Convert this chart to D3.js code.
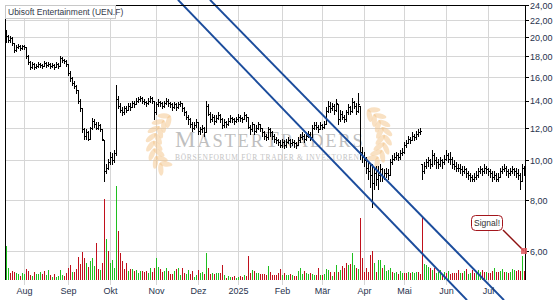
<!DOCTYPE html>
<html lang="de">
<head>
<meta charset="utf-8">
<script src="https://cdn.jsdelivr.net/npm/d3@7"></script>
<style>
  body { margin: 0; background: #fff; }
  svg { display: block; font-family: "Liberation Sans", Arial, sans-serif; }
  .grid line { stroke: #d6d6d6; stroke-width: 1; }
  .lbl { font-size: 9px; fill: #27324d; }
  .frame { stroke: #000; stroke-width: 1; }
</style>
</head>
<body>
<svg id="chart" width="555" height="300"></svg>
<script>
// ---- data ----
var title = "Ubisoft Entertainment (UEN.F)";

var closes = [20.2,19.7,19.9,19.4,18.6,18.9,19.1,18.8,19.0,18.9,
  18.0,17.4,16.9,17.2,16.9,17.0,17.2,17.1,17.0,17.3,
  17.1,17.2,17.0,17.1,16.9,17.2,17.0,17.8,17.6,17.5,
  17.2,16.4,15.9,15.5,15.2,14.9,14.0,13.4,11.9,11.5,
  11.7,11.3,12.0,12.5,12.3,12.0,12.2,11.9,11.3,9.4,
  9.6,9.9,10.2,10.0,10.4,14.1,13.6,13.3,13.1,13.4,
  13.3,13.6,13.5,13.8,13.7,14.0,14.1,14.2,14.0,13.9,
  13.8,14.0,14.2,14.0,13.1,13.7,13.9,13.8,13.6,13.8,
  14.0,13.8,13.7,13.5,13.7,13.5,13.7,13.8,13.4,13.1,
  12.8,12.6,12.3,12.0,12.2,12.4,11.8,11.9,12.0,11.7,
  13.6,13.0,12.6,12.8,12.5,12.7,12.9,12.6,12.2,12.4,
  12.3,12.5,12.7,12.6,12.5,12.6,12.8,12.7,12.6,12.9,
  12.8,12.1,11.9,12.3,11.8,12.0,12.3,12.0,11.7,11.5,
  11.4,11.9,11.7,11.5,11.3,11.2,11.1,10.9,11.1,10.9,
  11.1,11.2,11.0,11.1,11.0,10.9,11.2,11.4,11.5,11.3,
  11.5,11.6,11.4,12.0,12.2,12.1,11.9,12.2,12.1,12.3,
  13.2,13.6,13.4,13.6,13.3,13.8,12.6,13.0,12.8,12.6,
  13.1,13.5,13.2,13.9,13.6,13.2,13.7,10.5,10.2,10.0,
  9.6,9.4,9.2,8.8,9.3,9.0,9.2,9.5,9.1,9.3,
  9.3,9.2,9.9,10.1,10.2,10.3,10.2,10.4,10.5,10.9,
  11.0,11.3,11.2,11.5,11.4,11.6,11.7,11.8,9.4,9.7,
  9.9,10.0,9.8,10.3,10.0,9.9,9.8,10.0,9.9,10.1,
  10.3,10.1,10.1,9.8,9.7,9.6,9.6,9.5,9.4,9.5,
  9.3,9.2,9.1,9.0,9.1,9.2,9.4,9.5,9.4,9.6,
  9.5,9.4,9.3,9.1,9.2,9.0,9.1,9.4,9.5,9.6,
  9.4,9.3,9.4,9.5,9.4,9.3,9.2,8.9,9.6,9.4];

var highs = [20.8,20.3,20.1,20.0,19.4,19.2,19.3,19.2,19.2,19.2,
  18.9,18.1,17.5,17.4,17.3,17.2,17.4,17.3,17.2,17.5,
  17.4,17.4,17.3,17.3,17.2,17.4,17.3,18.0,17.9,17.7,
  17.6,17.2,16.5,16.0,15.6,15.3,14.9,14.1,13.4,12.0,
  11.9,11.8,12.1,12.7,12.6,12.4,12.4,12.3,11.9,11.2,
  9.8,10.1,10.5,10.4,10.6,15.3,14.4,13.8,13.5,13.6,
  13.6,13.8,13.8,14.0,14.0,14.2,14.3,14.4,14.3,14.1,
  14.0,14.2,14.4,14.3,14.0,13.9,14.1,14.0,13.9,14.0,
  14.2,14.1,13.9,13.8,13.9,13.8,13.9,14.0,13.8,13.5,
  13.2,12.9,12.7,12.4,12.4,12.6,12.4,12.1,12.2,12.1,
  14.0,13.7,13.1,13.0,12.9,12.9,13.1,13.0,12.7,12.6,
  12.5,12.7,12.9,12.8,12.7,12.8,13.0,12.9,12.8,13.1,
  13.0,12.8,12.2,12.4,12.3,12.2,12.4,12.3,12.0,11.8,
  11.6,12.1,12.0,11.8,11.6,11.4,11.3,11.2,11.3,11.2,
  11.3,11.4,11.3,11.3,11.2,11.1,11.4,11.6,11.7,11.6,
  11.7,11.8,11.7,12.2,12.4,12.4,12.2,12.4,12.3,12.5,
  13.5,14.0,13.9,13.8,13.7,14.1,13.7,13.3,13.2,12.9,
  13.3,13.7,13.6,14.2,14.0,13.8,14.6,13.6,10.8,10.5,
  10.2,9.9,9.8,9.8,9.6,9.7,9.7,9.8,9.6,9.5,
  9.6,9.5,10.1,10.3,10.4,10.5,10.4,10.6,10.7,11.1,
  11.2,11.5,11.4,11.7,11.6,11.8,11.9,12.0,9.8,9.9,
  10.1,10.2,10.1,10.6,10.4,10.2,10.1,10.2,10.1,10.3,
  10.6,10.4,10.5,10.2,10.0,9.9,9.8,9.8,9.7,9.7,
  9.6,9.4,9.3,9.2,9.3,9.4,9.6,9.7,9.6,9.8,
  9.7,9.6,9.5,9.4,9.4,9.3,9.3,9.6,9.7,9.8,
  9.7,9.5,9.6,9.7,9.6,9.6,9.5,9.3,9.8,9.7];

var lows = [19.5,19.5,19.5,19.2,18.4,18.5,18.8,18.6,18.7,18.7,
  17.8,17.2,16.7,16.8,16.7,16.8,16.9,16.9,16.8,17.0,
  16.9,17.0,16.8,16.9,16.7,16.9,16.8,17.0,17.4,17.3,
  17.0,16.2,15.6,15.3,15.0,14.6,13.8,13.2,11.7,11.3,
  11.3,11.2,11.3,11.9,12.1,11.9,11.9,11.8,11.2,8.9,
  9.3,9.5,9.8,9.8,9.9,10.3,13.4,13.1,12.9,13.0,
  13.1,13.3,13.3,13.5,13.5,13.7,13.9,14.0,13.8,13.7,
  13.6,13.7,13.9,13.8,12.6,13.0,13.6,13.6,13.4,13.5,
  13.7,13.6,13.5,13.3,13.4,13.3,13.4,13.6,13.2,12.9,
  12.6,12.3,12.1,11.8,11.9,12.1,11.6,11.6,11.7,11.5,
  11.7,12.9,12.4,12.5,12.3,12.4,12.6,12.4,12.0,12.1,
  12.1,12.2,12.4,12.4,12.3,12.4,12.5,12.5,12.4,12.6,
  12.5,12.0,11.6,11.8,11.6,11.7,11.9,11.8,11.5,11.3,
  11.2,11.3,11.5,11.3,11.1,11.0,10.9,10.8,10.8,10.7,
  10.8,11.0,10.8,10.9,10.8,10.7,10.9,11.1,11.3,11.1,
  11.2,11.4,11.2,11.4,11.9,11.9,11.7,11.9,11.9,12.0,
  12.3,13.1,13.1,13.3,13.0,13.2,12.3,12.5,12.6,12.4,
  12.5,13.0,13.0,13.1,13.4,13.0,13.1,10.1,9.9,9.7,
  9.3,9.0,8.6,7.7,8.5,8.7,8.5,8.9,8.9,9.0,
  9.1,9.0,9.2,9.8,10.0,10.1,10.0,10.1,10.3,10.4,
  10.8,11.0,11.0,11.2,11.2,11.3,11.5,11.6,9.0,9.3,
  9.6,9.7,9.6,9.7,9.8,9.6,9.6,9.7,9.6,9.8,
  10.0,9.9,9.8,9.6,9.5,9.4,9.4,9.3,9.2,9.3,
  9.1,9.0,8.9,8.9,8.9,9.0,9.1,9.3,9.2,9.3,
  9.3,9.2,9.1,8.9,9.0,8.9,8.9,9.1,9.3,9.4,
  9.2,9.1,9.2,9.3,9.2,9.1,9.0,8.5,8.9,9.2];

var volumes = [34,12,7,9,8,7,6,4,7,6,
  11,9,5,4,8,6,6,8,6,9,
  5,10,5,3,6,3,4,10,5,4,
  7,12,15,8,8,11,23,16,28,22,
  17,13,19,22,14,37,11,10,17,81,
  41,29,17,20,12,94,49,27,19,11,
  17,9,11,11,9,10,7,9,9,8,
  9,7,12,8,12,22,13,11,8,9,
  12,9,6,6,9,11,12,5,12,7,
  6,10,6,9,3,5,10,7,8,6,
  27,12,6,7,6,7,7,7,15,5,
  2,4,3,3,4,2,3,4,3,5,
  4,24,7,10,9,7,7,6,6,6,
  5,14,8,5,5,5,7,11,5,7,
  5,5,6,5,4,4,9,12,6,9,
  7,6,7,6,5,5,12,5,5,6,
  11,10,8,4,8,15,8,10,14,12,
  17,15,16,27,15,12,11,62,22,8,
  12,8,25,29,17,8,20,20,12,15,
  9,10,12,8,7,8,6,9,7,7,
  7,8,7,8,7,8,8,6,62,16,
  15,13,12,10,12,7,8,10,6,8,
  7,9,6,7,7,7,10,7,7,9,
  11,6,7,10,7,7,10,8,10,8,
  8,7,7,9,12,8,8,9,11,8,
  8,7,8,11,10,9,10,9,24,9];

// g = up day (green), r = down day (red)
var volumeDir = "ggrrrggrgg" + "rrrgrgggrr" + "ggrgrggggr" + "rrrgrrrrrr" + "grgggrrgrr" +
  "grggggrrrr" + "rgrgrgggrr" + "rggrrggrrg" + "grrrgrggrr" + "ggrrggrggr" +
  "grrgrggrrg" + "rggrrggrrg" + "rrrgrggrrr" + "rgrrrrrrgr" + "ggrgrrgggr" +
  "ggrggrrgrg" + "ggrgrgrgrr" + "rgrggrgrrr" + "rrrrgrggrg" + "gggrggrggr" +
  "rgrgggrrrg" + "ggrgrgggrg" + "rgrrrrrgrg" + "rggrrgggrr" + "grrrgrrggr" +
  "grgggrrrgr";

var priceTicks = [24, 22, 20, 18, 16, 14, 12, 10, 8, 6];
var months = ["Aug", "Sep", "Okt", "Nov", "Dez", "2025", "Feb", "Mär", "Apr", "Mai", "Jun", "Jul"];
var monthStart = [9, 31, 52, 75, 96, 116, 138, 158, 179, 199, 220, 241];

// trend channel: [bar index, price]
var trendA = [[86, 24.7], [230.5, 4.55]];
var trendB = [[102, 24.7], [249, 4.55]];

var signal = { i: 259, price: 6, text: "Signal!" };

// ---- layout ----
var svg = d3.select("#chart");
var plotL = 5, plotR = 525, plotT = 5, plotB = 280;

var x = d3.scaleLinear().domain([0, closes.length - 1]).range([6, 524]);
var y = d3.scaleLog().domain([6, 24]).range([251, 5]);
var yv = d3.scaleLinear().domain([0, 100]).range([plotB, 180]);

function px(v) { return Math.round(v) + 0.5; }

// grid
var grid = svg.append("g").attr("class", "grid");
grid.selectAll("line.h")
  .data(priceTicks.filter(function(t) { return t < 24; }))
  .enter().append("line")
    .attr("x1", plotL).attr("x2", plotR)
    .attr("y1", function(d) { return px(y(d)); })
    .attr("y2", function(d) { return px(y(d)); });
grid.selectAll("line.v")
  .data(monthStart)
  .enter().append("line")
    .attr("x1", function(d) { return px(x(d)); })
    .attr("x2", function(d) { return px(x(d)); })
    .attr("y1", plotT).attr("y2", 285);

// watermark
var wm = svg.append("g");
function laurel(cx, cy, a0, a1, flip) {
  var n = 8;
  for (var k = 0; k < n; k++) {
    var a = (a0 + (a1 - a0) * k / (n - 1)) * Math.PI / 180;
    var lx = cx + 32 * Math.cos(a), ly = cy + 32 * Math.sin(a);
    var tang = a * 180 / Math.PI + 90;
    [-40, 40].forEach(function(off, j) {
      var r = 6 * (j ? 1 : -1);
      var ex = lx + r * Math.cos(a) * 0.6, ey = ly + r * Math.sin(a) * 0.6;
      wm.append("ellipse")
        .attr("cx", ex).attr("cy", ey)
        .attr("rx", 6.5).attr("ry", 2.6)
        .attr("transform", "rotate(" + (tang + off * flip) + "," + ex + "," + ey + ")")
        .attr("fill", "#f3c388").attr("opacity", 0.5);
    });
  }
}
laurel(186, 144, 135, 232, 1);
laurel(352, 138, -52, 45, -1);

var wt = wm.append("text")
  .attr("x", 175).attr("y", 147)
  .attr("fill", "#bfbfbf")
  .style("font-family", "'Liberation Serif', 'DejaVu Serif', serif")
  .style("letter-spacing", "1.8px");
wt.append("tspan").attr("font-size", 23).text("M");
wt.append("tspan").attr("font-size", 18.5).text("ASTER");
wt.append("tspan").attr("font-size", 23).text("T");
wt.append("tspan").attr("font-size", 18.5).text("RADERS");
wm.append("text")
  .attr("x", 175).attr("y", 160)
  .attr("fill", "#c4c4c4")
  .attr("font-size", 7.5)
  .attr("textLength", 184).attr("lengthAdjust", "spacing")
  .style("font-family", "'Liberation Serif', 'DejaVu Serif', serif")
  .text("BÖRSENFORUM FÜR TRADER & INVESTOREN");

// volume
svg.append("g").selectAll("rect")
  .data(volumes)
  .enter().append("rect")
    .attr("x", function(d, i) { return Math.round(x(i)); })
    .attr("width", 1)
    .attr("y", function(d) { return Math.round(yv(d)); })
    .attr("height", function(d) { return plotB - Math.round(yv(d)); })
    .attr("fill", function(d, i) { return volumeDir[i] === "g" ? "#1fbf1f" : "#c0101c"; });

// OHLC bars (open = previous close, kept inside the day's range)
var bars = closes.map(function(c, i) {
  var o = i ? closes[i - 1] : c;
  o = Math.min(highs[i], Math.max(lows[i], o));
  return { i: i, o: o, h: highs[i], l: lows[i], c: c };
});
svg.append("g").selectAll("path")
  .data(bars)
  .enter().append("path")
    .attr("fill", "none").attr("stroke", "#000").attr("stroke-width", 1)
    .attr("d", function(d) {
      var cx = px(x(d.i)), col = Math.round(x(d.i));
      var yo = px(y(d.o)), yc = px(y(d.c));
      return "M" + cx + "," + Math.round(y(d.h)) + "V" + (Math.round(y(d.l)) + 1) +
        "M" + (col - 1) + "," + yo + "H" + col +
        "M" + (col + 1) + "," + yc + "H" + (col + 2);
    });

// trend channel
var tline = d3.line()
  .x(function(d) { return x(d[0]); })
  .y(function(d) { return y(d[1]); });
svg.selectAll("path.trend")
  .data([trendA, trendB])
  .enter().append("path")
    .attr("class", "trend")
    .attr("d", tline)
    .attr("fill", "none")
    .attr("stroke", "#1b4c9c")
    .attr("stroke-width", 2);

// frame + right axis
svg.append("line").attr("class", "frame").attr("x1", plotL + 0.5).attr("x2", plotL + 0.5).attr("y1", plotT).attr("y2", plotB);
svg.append("line").attr("class", "frame").attr("x1", plotL).attr("x2", plotR + 1).attr("y1", plotT + 0.5).attr("y2", plotT + 0.5);
svg.append("line").attr("class", "frame").attr("x1", plotR + 0.5).attr("x2", plotR + 0.5).attr("y1", plotT).attr("y2", plotB);

var yt = svg.append("g");
yt.selectAll("line")
  .data(priceTicks)
  .enter().append("line")
    .attr("class", "frame")
    .attr("x1", plotR).attr("x2", plotR + 4)
    .attr("y1", function(d) { return px(y(d)); })
    .attr("y2", function(d) { return px(y(d)); });
yt.selectAll("text")
  .data(priceTicks)
  .enter().append("text")
    .attr("class", "lbl")
    .attr("x", 530)
    .attr("y", function(d) { return y(d) + 0.5; })
    .attr("dy", "0.35em")
    .text(function(d) { return d.toFixed(2).replace(".", ","); });

svg.append("g").selectAll("text")
  .data(monthStart)
  .enter().append("text")
    .attr("class", "lbl")
    .attr("x", function(d) { return x(d) + 0.5; })
    .attr("y", 294)
    .attr("text-anchor", "middle")
    .text(function(d, i) { return months[i]; });

// title box
svg.append("rect")
  .attr("x", plotL + 0.5).attr("y", plotT + 0.5)
  .attr("width", 110).attr("height", 13)
  .attr("fill", "#fff").attr("stroke", "#c8c8c8");
svg.append("text")
  .attr("x", 8).attr("y", 15)
  .attr("font-size", 8.5).attr("fill", "#333a4a")
  .text(title);

// signal callout
var sx = x(signal.i), sy = y(signal.price);
svg.append("line")
  .attr("x1", sx - 21).attr("y1", sy - 21)
  .attr("x2", sx).attr("y2", sy)
  .attr("stroke", "#8e1010").attr("stroke-width", 1.5);
svg.append("rect")
  .attr("x", sx - 3).attr("y", sy - 3)
  .attr("width", 6).attr("height", 6)
  .attr("fill", "#e35b60").attr("opacity", 0.85);
svg.append("rect")
  .attr("x", sx - 52.5).attr("y", sy - 35.5)
  .attr("width", 31).attr("height", 15).attr("rx", 4)
  .attr("fill", "#fff").attr("stroke", "#a3161d");
svg.append("text")
  .attr("x", sx - 37).attr("y", sy - 28)
  .attr("dy", "0.35em")
  .attr("text-anchor", "middle")
  .attr("font-size", 8.5).attr("fill", "#333")
  .text(signal.text);
</script>
</body>
</html>
